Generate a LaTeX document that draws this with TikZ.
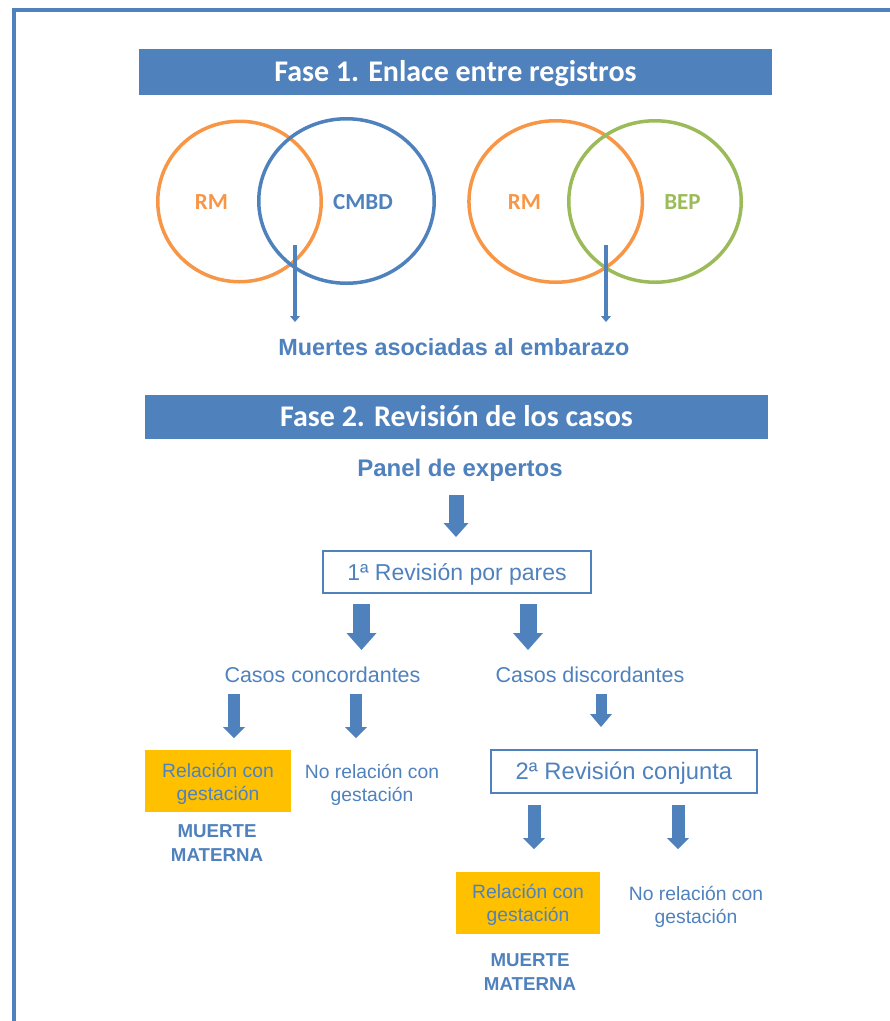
\documentclass[tikz,border=0pt]{standalone}
\usepackage{fontspec}
\setmainfont{Liberation Sans}
\newfontfamily\calibri{Carlito}
\usetikzlibrary{arrows.meta,shapes.geometric}
\definecolor{officeblue}{HTML}{4F81BD}
\definecolor{officeorange}{HTML}{F79646}
\definecolor{officegreen}{HTML}{9BBB59}
\definecolor{goldbox}{HTML}{FFC000}

\begin{document}
\begin{tikzpicture}[x=1pt,y=-1pt,
  header/.style={fill=officeblue, text=white, inner sep=0pt,
    font=\calibri\bfseries\fontsize{30}{33}\selectfont, text height=18pt, text depth=0pt},
  setname/.style={font=\calibri\bfseries\fontsize{23}{26}\selectfont, anchor=base},
  venn/.style={ellipse, draw, line width=3.5pt, inner sep=0pt},
  pin/.style={draw=officeblue, line width=4pt,
    -{Triangle[width=10pt,length=6pt,line width=0pt]}},
  blockarrow/.style n args={3}{draw=officeblue, line width=#1,
    -{Triangle[width=#2,length=#3,line width=0pt]}},
  bluetext/.style={text=officeblue, inner sep=0pt},
  boldlabel/.style={bluetext, anchor=base, font=\bfseries\fontsize{23.4}{27}\selectfont},
  stepbox/.style={draw=officeblue, line width=1.3pt, bluetext,
    font=\fontsize{23}{26}\selectfont, text height=16.5pt, text depth=0pt},
  caselabel/.style={bluetext, anchor=base, font=\fontsize{21.5}{24}\selectfont},
  smalllabel/.style={bluetext, align=center, font=\fontsize{19.3}{23}\selectfont},
  goldfill/.style={smalllabel, fill=goldbox},
  deathlabel/.style={bluetext, align=center, font=\bfseries\fontsize{18.7}{24}\selectfont}
]
\useasboundingbox (0,0) rectangle (890,1021);

% page frame, running off the right and bottom edges
\begin{scope}
  \clip (0,0) rectangle (890,1021);
  \draw[officeblue, line width=4pt] (13.5,10) rectangle (920,1050);
\end{scope}

% ---------- Phase 1: record linkage ----------
\node[header, minimum width=633pt, minimum height=46pt] (h1) at (455.5,72)
  {Fase 1. Enlace entre registros};

\node[venn, draw=officeorange, minimum width=163.5pt, minimum height=160.5pt] (rmA) at (239.5,201.5) {};
\node[venn, draw=officeblue, minimum width=175.5pt, minimum height=164.5pt] (cmbd) at (346.5,201) {};
\node[venn, draw=officeorange, minimum width=173.5pt, minimum height=161.5pt] (rmB) at (555.7,201.5) {};
\node[venn, draw=officegreen, minimum width=172.5pt, minimum height=161.5pt] (bep) at (655,201.5) {};

\node[setname, text=officeorange] (lrmA) at (211.5,209) {RM};
\node[setname, text=officeblue] (lcmbd) at (363,209) {CMBD};
\node[setname, text=officeorange] (lrmB) at (524.5,209) {RM};
\node[setname, text=officegreen] (lbep) at (682.5,209) {BEP};

\coordinate (cutA) at (295,245);
\coordinate (cutAend) at (295,322);
\coordinate (cutB) at (606,245);
\coordinate (cutBend) at (606,322);
\draw[pin] (cutA) -- (cutAend);
\draw[pin] (cutB) -- (cutBend);

\node[boldlabel] (assoc) at (454,355) {Muertes asociadas al embarazo};

% ---------- Phase 2: case review ----------
\node[header, minimum width=623pt, minimum height=44pt] (h2) at (456.5,417)
  {Fase 2. Revisión de los casos};

\node[boldlabel, font=\bfseries\fontsize{24}{27}\selectfont] (panel) at (460,476) {Panel de expertos};

\node[stepbox, minimum width=268pt, minimum height=42pt] (rev1) at (457,572)
  {1ª Revisión por pares};

\node[caselabel] (conc) at (322.5,682) {Casos concordantes};
\node[caselabel] (disc) at (590,682) {Casos discordantes};

\node[goldfill, minimum width=146pt, minimum height=62pt] (rel1) at (218,781) {};
\node[smalllabel] (rel1txt) at (218,784) {Relación con\\gestación};
\node[smalllabel] (norel1) at (372,785) {No relación con\\gestación};
\node[deathlabel] (mm1) at (217,843) {MUERTE\\MATERNA};

\node[stepbox, minimum width=266pt, minimum height=43pt, font=\fontsize{23.8}{27}\selectfont] (rev2) at (624,771.5)
  {2ª Revisión conjunta};

\node[goldfill, minimum width=144pt, minimum height=62pt] (rel2) at (528,903) {};
\node[smalllabel] (rel2txt) at (528,905) {Relación con\\gestación};
\node[smalllabel] (norel2) at (696,907) {No relación con\\gestación};
\node[deathlabel] (mm2) at (530,972) {MUERTE\\MATERNA};

% block arrows
\coordinate (pA) at (456,495);   \coordinate (pAend) at (456,537);
\coordinate (rA) at (361.5,604); \coordinate (rAend) at (361.5,650);
\coordinate (rB) at (528,604);   \coordinate (rBend) at (528,650);
\coordinate (cA) at (234,694);   \coordinate (cAend) at (234,738);
\coordinate (cB) at (356,694);   \coordinate (cBend) at (356,738);
\coordinate (dA) at (601,694);   \coordinate (dAend) at (601,727);
\coordinate (sA) at (534,805);   \coordinate (sAend) at (534,849);
\coordinate (sB) at (678,805);   \coordinate (sBend) at (678,849);

\draw[blockarrow={15pt}{25pt}{14pt}] (pA) -- (pAend);
\draw[blockarrow={17pt}{30pt}{17pt}] (rA) -- (rAend);
\draw[blockarrow={17pt}{30pt}{17pt}] (rB) -- (rBend);
\draw[blockarrow={12pt}{22pt}{11pt}] (cA) -- (cAend);
\draw[blockarrow={12pt}{22pt}{11pt}] (cB) -- (cBend);
\draw[blockarrow={11pt}{22pt}{13pt}] (dA) -- (dAend);
\draw[blockarrow={13pt}{22pt}{11pt}] (sA) -- (sAend);
\draw[blockarrow={13pt}{22pt}{11pt}] (sB) -- (sBend);
\end{tikzpicture}
\end{document}
